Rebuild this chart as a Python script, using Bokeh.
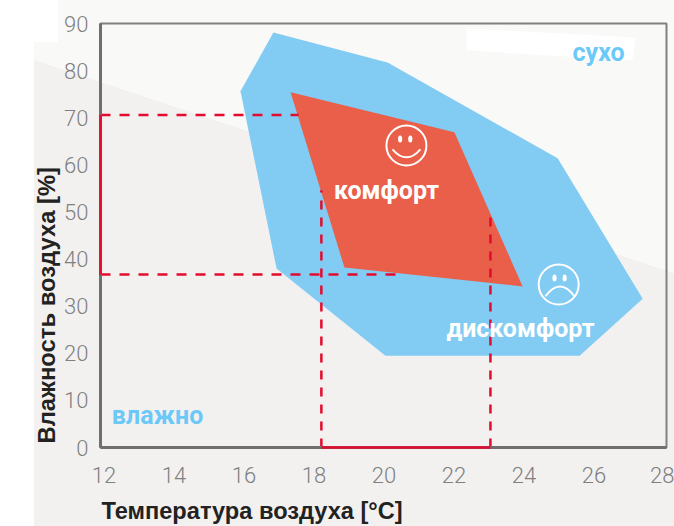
from bokeh.plotting import figure
from bokeh.embed import file_html
from bokeh.resources import INLINE
from bokeh.models import PolyAnnotation, FixedTicker, Title
from bokeh.core.properties import value

# data
x_ticks = [12, 14, 16, 18, 20, 22, 24, 26, 28]
y_ticks = [0, 10, 20, 30, 40, 50, 60, 70, 80, 90]
blue_x = [16.84, 20.1, 24.96, 27.39, 25.59, 20.04, 16.93, 15.9]
blue_y = [88.1, 81.7, 61.4, 31.6, 19.5, 19.5, 38.0, 75.6]
red_x = [17.33, 22.01, 23.96, 18.87]
red_y = [75.4, 66.9, 34.2, 38.2]
temp_low, temp_high = 18.21, 23.04
hum_low, hum_high = 36.7, 70.6
dash_top_low, dash_top_high = 54.6, 49.0
hdash_end_low, hdash_end_high = 20.47, 17.56
label_x = [20.07, 23.9]
label_y = [54.6, 25.3]
label_text = ["комфорт", "дискомфорт"]
zone_x = [26.13, 13.53]
zone_y = [83.9, 6.8]
zone_text = ["сухо", "влажно"]
face_x = [20.64, 24.99]
face_y = [64.1, 34.6]
eye_x = [20.46, 20.75, 24.87, 25.16]
eye_y = [65.5, 65.5, 36.0, 36.0]
x_title = "Температура воздуха [°C]"
y_title = "Влажность воздуха [%]"

X0, X1 = 11.9, 28.07
p = figure(width=674, height=526, x_range=(X0, X1), y_range=(0, 90),
           output_backend="svg", toolbar_location=None,
           min_border_left=100, min_border_right=8, min_border_top=23, min_border_bottom=79)
p.frame_width = 566
p.frame_height = 424
p.grid.visible = False
p.background_fill_color = None
p.border_fill_color = None
p.outline_line_color = "#808080"
p.outline_line_width = 2
p.styles = {
    "background": "linear-gradient(white,white) 0 0/58px 42px no-repeat,"
                  "linear-gradient(90deg,white 34px,transparent 34px),"
                  "linear-gradient(198.43deg,#f9f9f7 259px,#f3f1f0 259px)"
}
# white patch behind the "dry" label (frame-relative screen units)
p.add_layout(PolyAnnotation(xs=[366, 535, 532, 366], ys=[419, 410, 387, 397], xs_units="screen", ys_units="screen",
                            fill_color="white", fill_alpha=1, line_alpha=0, level="underlay"))

for ax, ticks in ((p.xaxis[0], x_ticks), (p.yaxis[0], y_ticks)):
    ax.ticker = FixedTicker(ticks=ticks)
    ax.major_tick_line_color = None
    ax.minor_tick_line_color = None
    ax.axis_line_color = "#6f6f6f"
    ax.axis_line_width = 3
    ax.major_label_text_font = "Roboto Light"
    ax.major_label_text_font_size = "22px"
    ax.major_label_text_color = "#808080"
p.xaxis[0].major_label_standoff = 13
p.yaxis[0].major_label_standoff = 6

# axis titles start at the frame's edge, as in the reference
p.add_layout(Title(text=x_title, align="left", offset=1, standoff=20,
                   text_font="Liberation Sans", text_font_style="bold", text_font_size="23.6px",
                   text_color="#222222"), "below")
p.add_layout(Title(text=y_title, align="left", offset=4, standoff=3,
                   text_font="Liberation Sans", text_font_style="bold", text_font_size="23.8px",
                   text_color="#222222"), "left")

p.patch(blue_x, blue_y, fill_color="#82cbf3", line_color=None)
p.patch(red_x, red_y, fill_color="#ea5f4a", line_color=None)

RED = "#e30b2e"
p.line([X0, hdash_end_high], [hum_high, hum_high], line_color=RED, line_width=2.5, line_dash="10 9")
p.line([X0, hdash_end_low], [hum_low, hum_low], line_color=RED, line_width=2.5, line_dash="10 9")
p.line([temp_low, temp_low], [0, dash_top_low], line_color=RED, line_width=2.5, line_dash="9 8")
p.line([temp_high, temp_high], [0, dash_top_high], line_color=RED, line_width=2.5, line_dash="9 8")
p.line([X0, X0], [hum_low, hum_high], line_color=RED, line_width=2.5, level="overlay")
p.line([temp_low, temp_high], [0, 0], line_color=RED, line_width=2.5, level="overlay")

p.scatter(face_x, face_y, marker="circle", size=40, fill_color=None, line_color="white", line_width=2)
p.ellipse(eye_x, eye_y, width=0.12, height=1.5, fill_color="white", line_color=None)
p.quadratic(x0=[20.24], y0=[63.3], x1=[21.04], y1=[63.3], cx=[20.64], cy=[59.9], line_color="white", line_width=2)
p.quadratic(x0=[24.61], y0=[32.1], x1=[25.44], y1=[32.1], cx=[25.03], cy=[36.3], line_color="white", line_width=2)

p.text(label_x, label_y, text=label_text, text_color="white", text_font=value("Roboto"),
       text_font_style="bold", text_font_size="25px", text_align="center", text_baseline="middle")
p.text(zone_x, zone_y, text=zone_text, text_color="#6cc9f7", text_font=value("Roboto"),
       text_font_style="bold", text_font_size="25px", text_align="center", text_baseline="middle")

open("out.html", "w").write(file_html(p, INLINE))
